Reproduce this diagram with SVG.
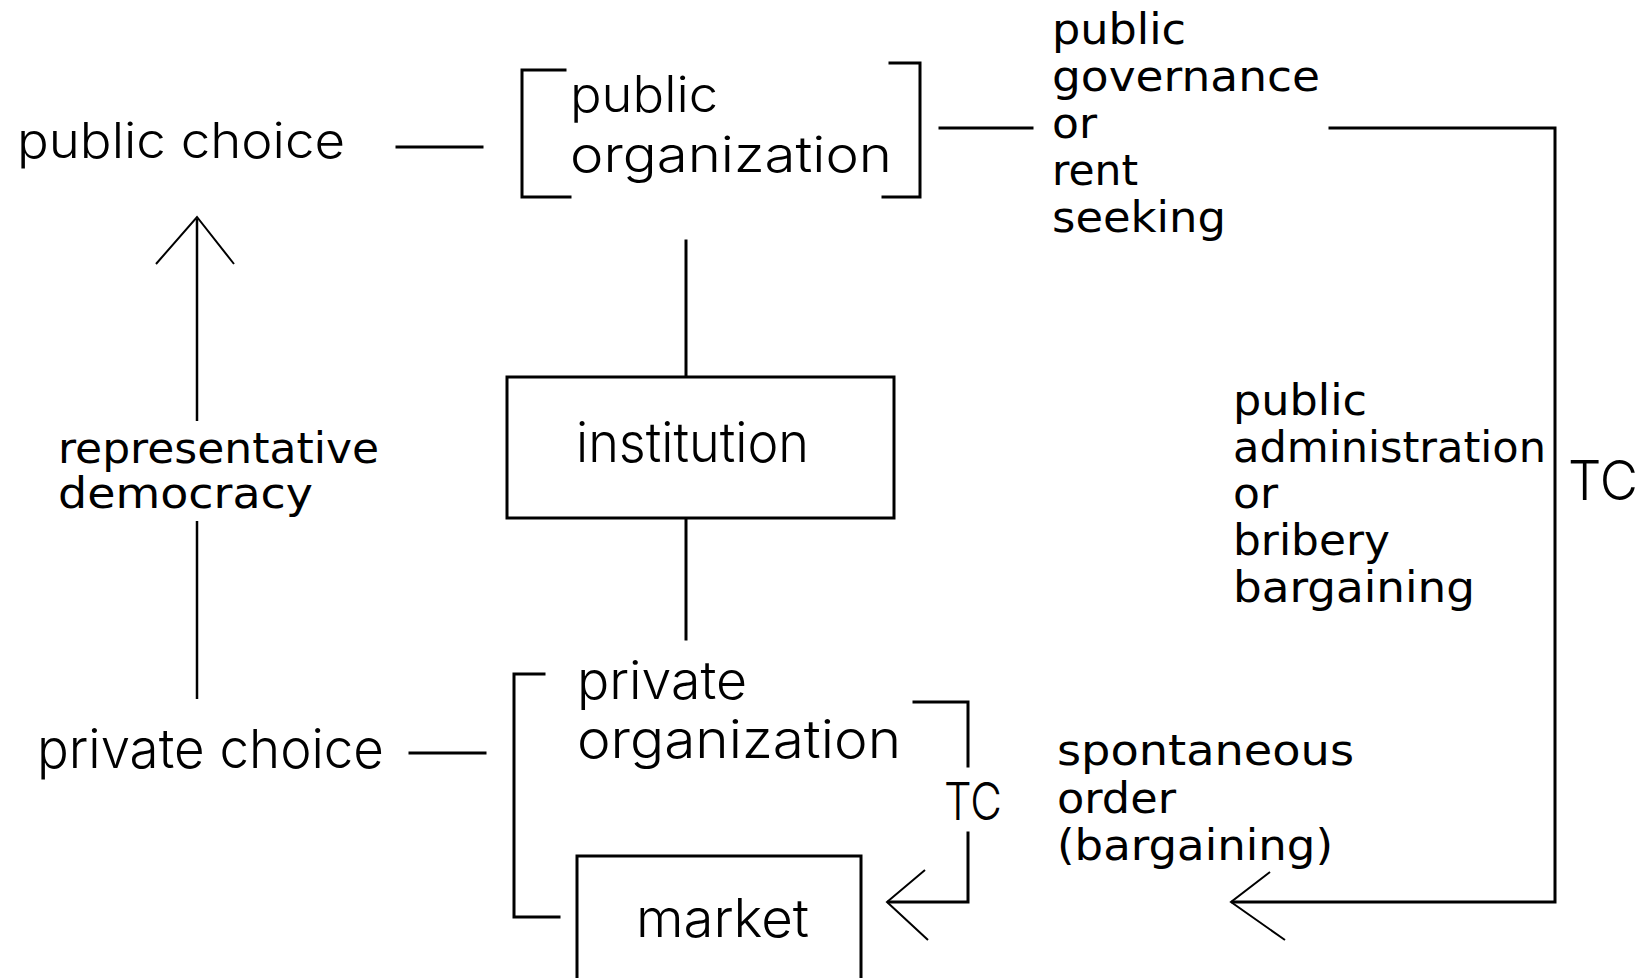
<svg xmlns="http://www.w3.org/2000/svg" width="1649" height="978" viewBox="0 0 1649 978">
  <style>
    .ln { fill: none; stroke: #000; stroke-width: 3; stroke-linecap: square; }
    .thin { fill: none; stroke: #000; stroke-width: 2.5; }
    .head { fill: none; stroke: #000; stroke-width: 2; }
    .box { fill: #fff; stroke: #000; stroke-width: 3; }
    .lt { font-family: "Inter", "DejaVu Sans", sans-serif; font-weight: 300; fill: #000; }
    .px { font-family: "DejaVu Sans", "Liberation Sans", sans-serif; font-size: 42px; fill: #000; }
  </style>
  <rect width="1649" height="978" fill="#fff"/>

  <g id="connectors">
    <!-- public choice — public organization -->
    <path class="ln" d="M397,147 H482"/>
    <!-- private choice — private bracket -->
    <path class="ln" d="M410,753 H485"/>
    <!-- bracket spanning private organization and market -->
    <path class="ln" d="M544,674 H514 V917 H559"/>
    <!-- institution links -->
    <path class="ln" d="M686,241 V377"/>
    <path class="ln" d="M686,518 V639"/>
    <!-- private choice up to public choice via representative democracy -->
    <path class="thin" d="M197,219 V421"/>
    <path class="thin" d="M197,521 V699"/>
    <path class="head" d="M156,264 L197,217 L234,264"/>
    <!-- public organization to governance label -->
    <path class="ln" d="M940,128 H1032"/>
    <!-- long TC loop down to spontaneous order -->
    <path class="ln" d="M1330,128 H1555 V902 H1233"/>
    <path class="head" d="M1270,872 L1231,902 L1285,940"/>
    <!-- short TC loop from private organization to market -->
    <path class="ln" d="M914,702 H968 V766"/>
    <path class="ln" d="M968,833 V902 H889"/>
    <path class="head" d="M925,870 L887,902 L928,940"/>
  </g>

  <g id="public-choice">
    <text class="lt" x="17" y="158" font-size="49" textLength="328" lengthAdjust="spacingAndGlyphs">public choice</text>
  </g>

  <g id="public-organization">
    <path class="ln" d="M565,70 H522 V197 H570"/>
    <path class="ln" d="M890,63 H920 V197 H883"/>
    <text class="lt" x="570" y="112" font-size="50" textLength="148" lengthAdjust="spacingAndGlyphs">public</text>
    <text class="lt" x="570" y="172" font-size="50" textLength="322" lengthAdjust="spacingAndGlyphs">organization</text>
  </g>

  <g id="public-governance">
    <text class="px" x="1052" y="44" textLength="134" lengthAdjust="spacingAndGlyphs">public</text>
    <text class="px" x="1052" y="91" textLength="268" lengthAdjust="spacingAndGlyphs">governance</text>
    <text class="px" x="1052" y="138" textLength="45" lengthAdjust="spacingAndGlyphs">or</text>
    <text class="px" x="1052" y="185" textLength="86" lengthAdjust="spacingAndGlyphs">rent</text>
    <text class="px" x="1052" y="232" textLength="174" lengthAdjust="spacingAndGlyphs">seeking</text>
  </g>

  <g id="institution">
    <rect class="box" x="507" y="377" width="387" height="141"/>
    <text class="lt" x="576" y="462" font-size="55" textLength="233" lengthAdjust="spacingAndGlyphs">institution</text>
  </g>

  <g id="representative-democracy">
    <text class="px" x="58" y="463" textLength="321" lengthAdjust="spacingAndGlyphs">representative</text>
    <text class="px" x="58" y="508" textLength="255" lengthAdjust="spacingAndGlyphs">democracy</text>
  </g>

  <g id="public-administration">
    <text class="px" x="1233" y="415" textLength="134" lengthAdjust="spacingAndGlyphs">public</text>
    <text class="px" x="1233" y="462" textLength="313" lengthAdjust="spacingAndGlyphs">administration</text>
    <text class="px" x="1233" y="508" textLength="45" lengthAdjust="spacingAndGlyphs">or</text>
    <text class="px" x="1233" y="555" textLength="157" lengthAdjust="spacingAndGlyphs">bribery</text>
    <text class="px" x="1233" y="602" textLength="242" lengthAdjust="spacingAndGlyphs">bargaining</text>
  </g>

  <g id="tc-public">
    <text class="lt" x="1568" y="500" font-size="55" textLength="70" lengthAdjust="spacingAndGlyphs">TC</text>
  </g>

  <g id="private-choice">
    <text class="lt" x="37" y="768" font-size="54" textLength="347" lengthAdjust="spacingAndGlyphs">private choice</text>
  </g>

  <g id="private-organization">
    <text class="lt" x="577" y="699" font-size="52" textLength="170" lengthAdjust="spacingAndGlyphs">private</text>
    <text class="lt" x="577" y="758" font-size="52" textLength="324" lengthAdjust="spacingAndGlyphs">organization</text>
  </g>

  <g id="tc-private">
    <text class="lt" x="944" y="820" font-size="52" textLength="58" lengthAdjust="spacingAndGlyphs">TC</text>
  </g>

  <g id="spontaneous-order">
    <text class="px" x="1057" y="765" textLength="297" lengthAdjust="spacingAndGlyphs">spontaneous</text>
    <text class="px" x="1057" y="813" textLength="119" lengthAdjust="spacingAndGlyphs">order</text>
    <text class="px" x="1057" y="860" textLength="276" lengthAdjust="spacingAndGlyphs">(bargaining)</text>
  </g>

  <g id="market">
    <path class="ln" d="M577,990 V856 H861 V990"/>
    <text class="lt" x="636" y="937" font-size="53" textLength="173" lengthAdjust="spacingAndGlyphs">market</text>
  </g>
</svg>
